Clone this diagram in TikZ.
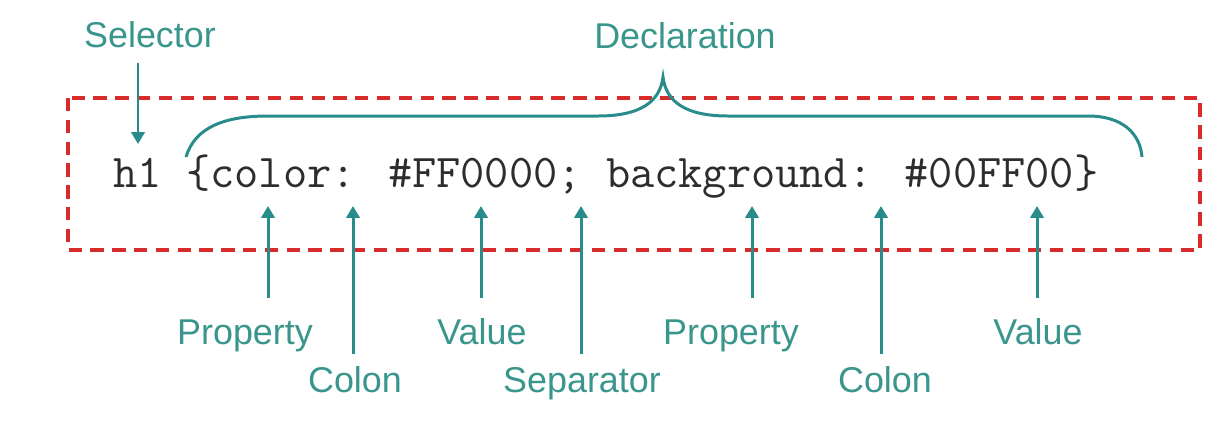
\documentclass[tikz,border=0pt]{standalone}
\usepackage{fontspec}
\newfontfamily\labelfont{Liberation Sans}
\usetikzlibrary{arrows.meta}
\definecolor{tealtext}{RGB}{58,150,140}
\definecolor{tealline}{RGB}{40,140,138}
\definecolor{boxred}{RGB}{216,44,44}
\definecolor{codegray}{RGB}{45,45,45}
\tikzset{
  lbl/.style={anchor=base, inner sep=0pt, text=tealtext, font=\labelfont\fontsize{10.2}{12}\selectfont},
  pointer/.style={draw=tealline, line width=0.85pt, -{Triangle[length=3.4pt,width=3.8pt]}},
  bracestyle/.style={draw=tealline, line width=0.85pt},
  dashbox/.style={draw=boxred, line width=1.15pt, dash pattern=on 3.8pt off 2.4pt}
}
\begin{document}
\begin{tikzpicture}[x=0.01cm, y=-0.01cm]
\useasboundingbox (0,0) rectangle (1228,424);
% dashed box
\draw[dashbox] (68,98) rectangle (1200,250);
% code
\node[anchor=base west, inner sep=0pt, text=codegray, font=\ttfamily\fontsize{13.37}{16}\selectfont] (code) at (113,187) {h1 \{color: \#FF0000; background: \#00FF00\}};
% labels
\node[lbl] (sel) at (150,47) {Selector};
\node[lbl] (decl) at (685,48) {Declaration};
\node[lbl] (prop1) at (245,344) {Property};
\node[lbl] (col1) at (355,392) {Colon};
\node[lbl] (val1) at (482,344) {Value};
\node[lbl] (sep) at (582,392) {Separator};
\node[lbl] (prop2) at (731,344) {Property};
\node[lbl] (col2) at (885,392) {Colon};
\node[lbl] (val2) at (1038,344) {Value};
% brace
\coordinate (bl) at (186,157);
\coordinate (btip) at (663,77);
\coordinate (br) at (1142,157);
\draw[bracestyle] (bl) .. controls (195,127) and (225,116) .. (268,116) -- (598,116)
  .. controls (640,116) and (660,102) .. (btip)
  .. controls (666,102) and (686,116) .. (728,116) -- (1088,116)
  .. controls (1122,116) and (1140,133) .. (br);
% selector arrow
\coordinate (sels) at (138,63);
\coordinate (selt) at (138,144);
\draw[pointer] (sels) -- (selt);
% bottom arrows
\coordinate (p1s) at (268,298); \coordinate (p1t) at (268,206);
\coordinate (c1s) at (353,354); \coordinate (c1t) at (353,206);
\coordinate (v1s) at (481,298); \coordinate (v1t) at (481,206);
\coordinate (ss)  at (581,354); \coordinate (st)  at (581,206);
\coordinate (p2s) at (752,298); \coordinate (p2t) at (752,206);
\coordinate (c2s) at (881,354); \coordinate (c2t) at (881,206);
\coordinate (v2s) at (1037,298); \coordinate (v2t) at (1037,206);
\draw[pointer] (p1s) -- (p1t);
\draw[pointer] (c1s) -- (c1t);
\draw[pointer] (v1s) -- (v1t);
\draw[pointer] (ss) -- (st);
\draw[pointer] (p2s) -- (p2t);
\draw[pointer] (c2s) -- (c2t);
\draw[pointer] (v2s) -- (v2t);
\end{tikzpicture}
\end{document}
